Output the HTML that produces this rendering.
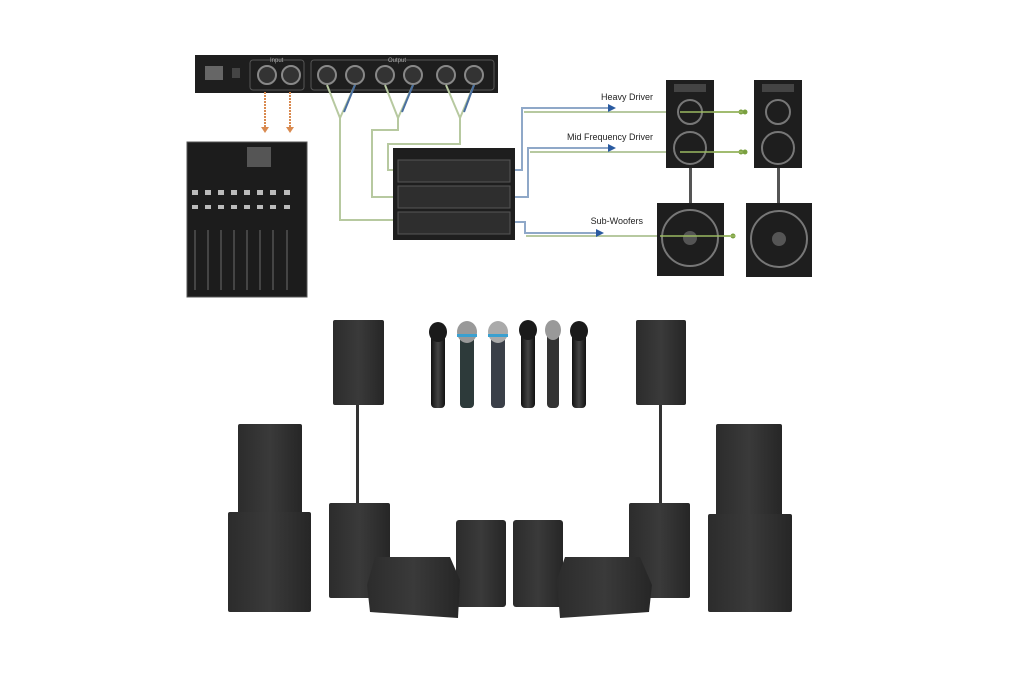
<!DOCTYPE html>
<html><head><meta charset="utf-8"><style>
html,body{margin:0;padding:0;background:#fff;width:1024px;height:675px;overflow:hidden}
svg{display:block}
text{font-family:"Liberation Sans",sans-serif}
</style></head><body>
<svg width="1024" height="675" viewBox="0 0 1024 675" xmlns="http://www.w3.org/2000/svg">
<defs>
<linearGradient id="sp" x1="0" x2="1"><stop offset="0" stop-color="#2c2c2c"/><stop offset="0.5" stop-color="#3a3a3a"/><stop offset="1" stop-color="#262626"/></linearGradient>
<linearGradient id="mic" x1="0" x2="1"><stop offset="0" stop-color="#111"/><stop offset="0.5" stop-color="#444"/><stop offset="1" stop-color="#111"/></linearGradient>
</defs>

<!-- top crossover unit -->
<rect x="195" y="55" width="303" height="38" fill="#1e1e1e"/>
<rect x="205" y="66" width="18" height="14" fill="#666"/>
<rect x="232" y="68" width="8" height="10" fill="#444"/>
<rect x="250" y="60" width="54" height="30" rx="3" fill="none" stroke="#555"/>
<rect x="311" y="60" width="183" height="30" rx="3" fill="none" stroke="#555"/>
<text x="270" y="62" font-size="6" fill="#aaa">Input</text>
<text x="388" y="62" font-size="6" fill="#aaa">Output</text>
<g fill="#333" stroke="#888" stroke-width="2">
<circle cx="267" cy="75" r="9"/><circle cx="291" cy="75" r="9"/>
<circle cx="327" cy="75" r="9"/><circle cx="355" cy="75" r="9"/><circle cx="385" cy="75" r="9"/><circle cx="413" cy="75" r="9"/><circle cx="446" cy="75" r="9"/><circle cx="474" cy="75" r="9"/>
</g>
<!-- orange arrows -->
<g stroke="#d98a50" stroke-width="2" stroke-dasharray="2 1"><line x1="265" y1="92" x2="265" y2="128"/><line x1="290" y1="92" x2="290" y2="128"/></g>
<g fill="#d98a50"><polygon points="261,127 269,127 265,133"/><polygon points="286,127 294,127 290,133"/></g>

<!-- cables -->
<g fill="none" stroke-width="2">
<path d="M327 85 L340 118 L355 85" stroke="#b7c9a0"/>
<path d="M340 118 L340 220 L395 220" stroke="#b7c9a0"/>
<path d="M385 85 L398 118 L413 85" stroke="#b7c9a0"/>
<path d="M398 118 V130 H372 V197 H395" stroke="#b7c9a0"/>
<path d="M446 85 L460 118 L474 85" stroke="#b7c9a0"/>
<path d="M460 118 V144 H388 V170 H395" stroke="#b7c9a0"/>
<path d="M355 85 L344 112" stroke="#4a6fa0"/><path d="M413 85 L402 112" stroke="#4a6fa0"/><path d="M474 85 L464 112" stroke="#4a6fa0"/>
<path d="M512 170 H522 V108 H610" stroke="#8fa8c8"/>
<path d="M512 197 H528 V148 H610" stroke="#8fa8c8"/>
<path d="M512 222 H525 V233 H598" stroke="#8fa8c8"/>
<path d="M524 112 H740" stroke="#b7c9a0"/>
<path d="M530 152 H740" stroke="#b7c9a0"/>
<path d="M526 236 H730" stroke="#b7c9a0"/>
</g>
<g fill="#2a5aa0"><polygon points="608,104 616,108 608,112"/><polygon points="608,144 616,148 608,152"/><polygon points="596,229 604,233 596,237"/></g>
<g fill="#7aa040"><circle cx="741" cy="112" r="2.5"/><circle cx="741" cy="152" r="2.5"/><circle cx="733" cy="236" r="2.5"/></g>
<text x="653" y="100" font-size="9" fill="#222" text-anchor="end">Heavy Driver</text>
<text x="653" y="140" font-size="9" fill="#222" text-anchor="end">Mid Frequency Driver</text>
<text x="643" y="224" font-size="9" fill="#222" text-anchor="end">Sub-Woofers</text>

<!-- mixer -->
<rect x="187" y="142" width="120" height="155" fill="#1c1c1c" stroke="#555"/>
<rect x="247" y="147" width="24" height="20" fill="#555"/>
<g fill="#bbb">
<rect x="192" y="190" width="6" height="5"/><rect x="205" y="190" width="6" height="5"/><rect x="218" y="190" width="6" height="5"/><rect x="231" y="190" width="6" height="5"/><rect x="244" y="190" width="6" height="5"/><rect x="257" y="190" width="6" height="5"/><rect x="270" y="190" width="6" height="5"/><rect x="284" y="190" width="6" height="5"/>
<rect x="192" y="205" width="6" height="4"/><rect x="205" y="205" width="6" height="4"/><rect x="218" y="205" width="6" height="4"/><rect x="231" y="205" width="6" height="4"/><rect x="244" y="205" width="6" height="4"/><rect x="257" y="205" width="6" height="4"/><rect x="270" y="205" width="6" height="4"/><rect x="284" y="205" width="6" height="4"/>
</g>
<g stroke="#444" stroke-width="2"><line x1="195" y1="230" x2="195" y2="290"/><line x1="208" y1="230" x2="208" y2="290"/><line x1="221" y1="230" x2="221" y2="290"/><line x1="234" y1="230" x2="234" y2="290"/><line x1="247" y1="230" x2="247" y2="290"/><line x1="260" y1="230" x2="260" y2="290"/><line x1="273" y1="230" x2="273" y2="290"/><line x1="287" y1="230" x2="287" y2="290"/></g>

<!-- amp rack -->
<rect x="393" y="148" width="122" height="92" fill="#1e1e1e"/>
<rect x="398" y="160" width="112" height="22" fill="#2e2e2e" stroke="#555"/>
<rect x="398" y="186" width="112" height="22" fill="#2e2e2e" stroke="#555"/>
<rect x="398" y="212" width="112" height="22" fill="#2e2e2e" stroke="#555"/>

<!-- top-right speakers -->
<g>
<rect x="666" y="80" width="48" height="88" fill="#1e1e1e"/><rect x="674" y="84" width="32" height="8" fill="#444"/>
<circle cx="690" cy="112" r="12" fill="none" stroke="#777" stroke-width="2"/><circle cx="690" cy="148" r="16" fill="none" stroke="#777" stroke-width="2"/>
<rect x="754" y="80" width="48" height="88" fill="#1e1e1e"/><rect x="762" y="84" width="32" height="8" fill="#444"/>
<circle cx="778" cy="112" r="12" fill="none" stroke="#777" stroke-width="2"/><circle cx="778" cy="148" r="16" fill="none" stroke="#777" stroke-width="2"/>
<rect x="689" y="168" width="3" height="35" fill="#555"/><rect x="777" y="168" width="3" height="35" fill="#555"/>
<rect x="657" y="203" width="67" height="73" fill="#1e1e1e"/><circle cx="690" cy="238" r="28" fill="none" stroke="#777" stroke-width="2"/><circle cx="690" cy="238" r="7" fill="#555"/>
<rect x="746" y="203" width="66" height="74" fill="#1e1e1e"/><circle cx="779" cy="239" r="28" fill="none" stroke="#777" stroke-width="2"/><circle cx="779" cy="239" r="7" fill="#555"/>
</g>
<g stroke="#9ab860" stroke-width="1.5"><line x1="680" y1="112" x2="745" y2="112"/><line x1="680" y1="152" x2="745" y2="152"/><line x1="660" y1="236" x2="735" y2="236"/></g>
<g fill="#7aa040"><circle cx="745" cy="112" r="2.5"/><circle cx="745" cy="152" r="2.5"/></g>

<!-- bottom speakers -->
<g fill="url(#sp)">
<rect x="333" y="320" width="51" height="85" rx="2"/>
<rect x="636" y="320" width="50" height="85" rx="2"/>
<rect x="238" y="424" width="64" height="96" rx="2"/>
<rect x="716" y="424" width="66" height="96" rx="2"/>
<rect x="228" y="512" width="83" height="100" rx="2"/>
<rect x="708" y="514" width="84" height="98" rx="2"/>
<rect x="329" y="503" width="61" height="95" rx="2"/>
<rect x="629" y="503" width="61" height="95" rx="2"/>
<rect x="456" y="520" width="50" height="87" rx="3"/>
<rect x="513" y="520" width="50" height="87" rx="3"/>
<polygon points="375,557 450,557 460,580 458,618 370,612 367,585"/>
<polygon points="565,557 640,557 652,585 649,612 560,618 557,580"/>
</g>
<rect x="356" y="405" width="3" height="98" fill="#333"/>
<rect x="659" y="405" width="3" height="98" fill="#333"/>

<!-- mics -->
<g>
<rect x="431" y="330" width="14" height="78" rx="4" fill="url(#mic)"/><ellipse cx="438" cy="332" rx="9" ry="10" fill="#1a1a1a"/>
<rect x="460" y="332" width="14" height="76" rx="4" fill="#2d3a3a"/><ellipse cx="467" cy="332" rx="10" ry="11" fill="#999"/><rect x="457" y="334" width="20" height="3" fill="#3aa0d0"/>
<rect x="491" y="332" width="14" height="76" rx="4" fill="#3a3f48"/><ellipse cx="498" cy="332" rx="10" ry="11" fill="#aaa"/><rect x="488" y="334" width="20" height="3" fill="#3aa0d0"/>
<rect x="521" y="330" width="14" height="78" rx="4" fill="url(#mic)"/><ellipse cx="528" cy="330" rx="9" ry="10" fill="#1a1a1a"/>
<rect x="547" y="330" width="12" height="78" rx="4" fill="#333"/><ellipse cx="553" cy="330" rx="8" ry="10" fill="#999"/>
<rect x="572" y="330" width="14" height="78" rx="4" fill="url(#mic)"/><ellipse cx="579" cy="331" rx="9" ry="10" fill="#1a1a1a"/>
</g>
</svg>
</body></html>
